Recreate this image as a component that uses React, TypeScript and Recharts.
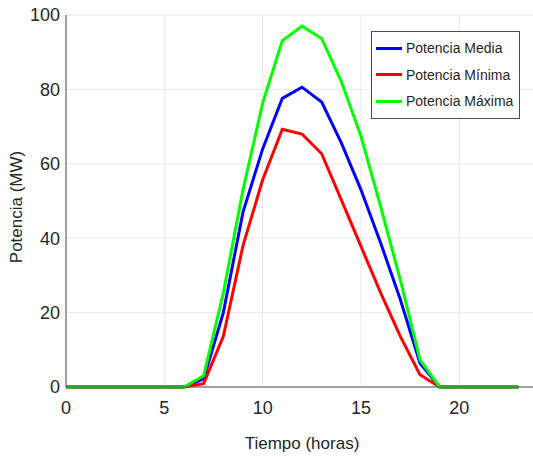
import {
  LineChart,
  Line,
  XAxis,
  YAxis,
  CartesianGrid,
} from 'recharts';

// Hours of the day
const hours = [0, 1, 2, 3, 4, 5, 6, 7, 8, 9, 10, 11, 12, 13, 14, 15, 16, 17, 18, 19, 20, 21, 22, 23];

// Power readings in MW
const potenciaMedia = [0, 0, 0, 0, 0, 0, 0, 2.2, 20, 47, 64, 77.6, 80.6, 76.6, 65.6, 53, 38.7, 23.5, 6.4, 0, 0, 0, 0, 0];
const potenciaMinima = [0, 0, 0, 0, 0, 0, 0, 0.9, 13.6, 38, 55.7, 69.3, 68, 62.7, 50.3, 37.8, 25.3, 13.6, 3.3, 0, 0, 0, 0, 0];
const potenciaMaxima = [0, 0, 0, 0, 0, 0, 0, 3, 25.3, 53, 76.3, 93.1, 97, 93.7, 82.1, 67.4, 48.5, 28.8, 7.3, 0, 0, 0, 0, 0];

const xTicks = [0, 5, 10, 15, 20];
const yTicks = [0, 20, 40, 60, 80, 100];

const series = [
  { key: 'media', name: 'Potencia Media', color: '#0000ff' },
  { key: 'minima', name: 'Potencia Mínima', color: '#ff0000' },
  { key: 'maxima', name: 'Potencia Máxima', color: '#00ff00' },
];

const data = hours.map((h, i) => ({
  hora: h,
  media: potenciaMedia[i],
  minima: potenciaMinima[i],
  maxima: potenciaMaxima[i],
}));

const FONT = '"Liberation Sans", Arial, sans-serif';
const TEXT = '#262626';
const AXIS = '#4d4d4d';

function LegendBox() {
  return (
    <div
      style={{
        position: 'absolute',
        left: 371,
        top: 31,
        border: `1px solid ${AXIS}`,
        background: '#fff',
        padding: '3px 6px 3px 4px',
        fontFamily: FONT,
        fontSize: 14,
        color: TEXT,
      }}
    >
      {series.map((s) => (
        <div key={s.key} style={{ display: 'flex', alignItems: 'center', height: 26.5 }}>
          <div style={{ width: 26, height: 3, background: s.color, marginRight: 4 }} />
          <span>{s.name}</span>
        </div>
      ))}
    </div>
  );
}

// rotated y-axis title, placed where the reference has it
const YTitle = () => (
  <text
    transform="translate(22,207) rotate(-90)"
    textAnchor="middle"
    fill={TEXT}
    fontSize={17}
    fontFamily={FONT}
  >
    Potencia (MW)
  </text>
);

export default function App() {
  return (
    <div
      style={{
        position: 'fixed',
        left: 0,
        top: 0,
        width: 533,
        height: 457,
        overflow: 'hidden',
        background: '#fff',
      }}
    >
      <LineChart
        width={560}
        height={457}
        data={data}
        margin={{ top: 15, right: 22, left: 0, bottom: 0 }}
      >
        <CartesianGrid stroke="#e8e8e8" strokeWidth={1} />
        <XAxis
          type="number"
          dataKey="hora"
          domain={[0, 24]}
          ticks={xTicks}
          height={70}
          tickSize={0}
          tickMargin={14}
          tickLine={false}
          axisLine={{ stroke: AXIS }}
          tick={{ fill: TEXT, fontSize: 18, fontFamily: FONT }}
          label={{
            value: 'Tiempo (horas)',
            position: 'insideBottom',
            offset: 8,
            fill: TEXT,
            fontSize: 17,
            fontFamily: FONT,
          }}
        />
        <XAxis
          xAxisId="top"
          orientation="top"
          type="number"
          dataKey="hora"
          domain={[0, 24]}
          ticks={xTicks}
          height={0}
          tick={false}
          tickLine={false}
          axisLine={{ stroke: AXIS }}
        />
        <YAxis
          type="number"
          domain={[0, 100]}
          ticks={yTicks}
          width={66}
          tickSize={0}
          tickMargin={6}
          tickLine={false}
          axisLine={{ stroke: AXIS }}
          tick={{ fill: TEXT, fontSize: 18, fontFamily: FONT }}
          label={<YTitle />}
        />
        {series.map((s) => (
          <Line
            key={s.key}
            type="linear"
            dataKey={s.key}
            name={s.name}
            stroke={s.color}
            strokeWidth={3}
            dot={false}
            isAnimationActive={false}
          />
        ))}
      </LineChart>
      <LegendBox />
    </div>
  );
}
